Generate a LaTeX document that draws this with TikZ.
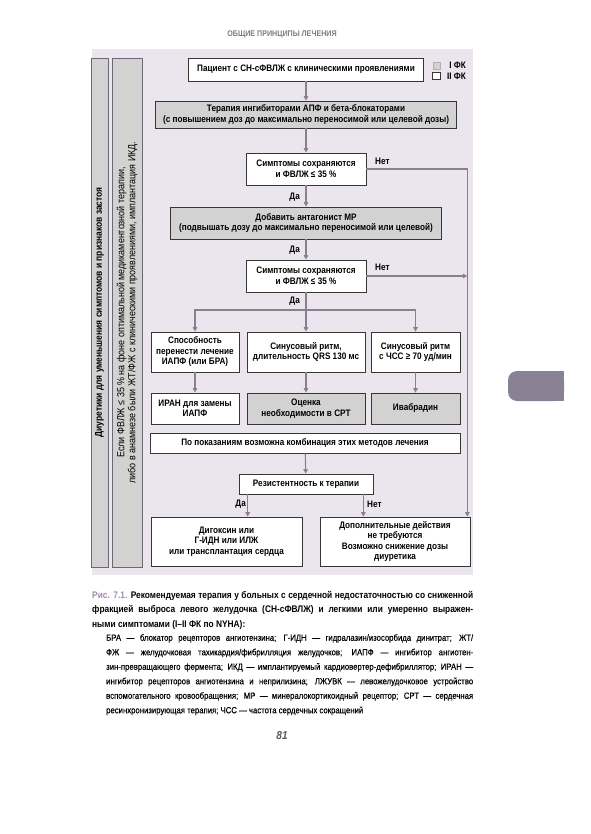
\documentclass[tikz,border=0pt]{standalone}
\usepackage{fontspec}
\setmainfont{Liberation Sans}[FakeStretch=0.87]
\newfontfamily\abbrfont{Liberation Sans}[FakeStretch=0.87, FakeBold=0.35]
\usepackage{xcolor}
\usetikzlibrary{arrows.meta, positioning, calc, shadows}
\definecolor{panelbg}{HTML}{EBE5EE}
\definecolor{flowline}{HTML}{8A7F92}
\definecolor{boxgrey}{HTML}{D2D2D2}
\definecolor{boxedge}{HTML}{363636}
\definecolor{tabgrey}{HTML}{8B8194}
\definecolor{figlabel}{HTML}{9F8AAF}
\definecolor{headgrey}{HTML}{7D7D7D}

\begin{document}
\begin{tikzpicture}[x=1pt, y=-1pt,
    box/.style={draw=boxedge, line width=0.7pt, fill=white, align=center, inner sep=1pt,
      font=\fontsize{9.4}{10.5}\selectfont\bfseries,
      general shadow={fill=black!55, shadow xshift=0.9pt, shadow yshift=-0.9pt}},
    greybox/.style={box, fill=boxgrey},
    bar/.style={draw=flowline!80!black, line width=0.6pt, fill=boxgrey, inner sep=0pt},
    bartext/.style={rotate=90, align=center, inner sep=0pt},
    arrow/.style={-{Triangle[length=4.5pt, width=4.5pt]}, flowline, line width=1.1pt},
    link/.style={flowline, line width=1.1pt},
    lbl/.style={font=\fontsize{9.4}{10}\selectfont\bfseries, inner sep=0pt}
]
\useasboundingbox (0,0) rectangle (590,834);
\fill[white] (0,0) rectangle (590,834);

\node[font=\fontsize{8.2}{9}\selectfont\bfseries, text=headgrey] (head) at (282,34) {ОБЩИЕ ПРИНЦИПЫ ЛЕЧЕНИЯ};
\fill[panelbg] (92,49) rectangle (473,575);

\node[bar, minimum width=17pt, minimum height=509pt] (diurbar) at (99.5,312.5) {};
\node[bar, minimum width=30pt, minimum height=509pt] (icdbar) at (127,312.5) {};
\node[bartext, font=\fontsize{9.7}{10}\selectfont\bfseries] (diurtext) at (diurbar) {Диуретики для уменьшения симптомов и признаков застоя};
\node[bartext, font=\fontsize{10.3}{11}\selectfont] (icdtext) at (icdbar) {Если ФВЛЖ ≤ 35 \% на фоне оптимальной медикаментозной терапии,\\либо в анамнезе были ЖТ/ФЖ с клиническими проявлениями, имплантация ИКД.};

\node[box, minimum width=235pt, minimum height=23pt] (pat) at (306,69.5) {Пациент с СН-сФВЛЖ с клиническими проявлениями};
\node[greybox, minimum width=301pt, minimum height=27pt] (acei) at (306,114.5) {Терапия ингибиторами АПФ и бета-блокаторами\\(с повышением доз до максимально переносимой или целевой дозы)};
\node[box, minimum width=120pt, minimum height=32pt] (sym1) at (306,169) {Симптомы сохраняются\\и ФВЛЖ ≤ 35 \%};
\node[greybox, minimum width=271pt, minimum height=32pt] (mra) at (306,223) {Добавить антагонист МР\\(подвышать дозу до максимально переносимой или целевой)};
\node[box, minimum width=120pt, minimum height=32pt] (sym2) at (306,276) {Симптомы сохраняются\\и ФВЛЖ ≤ 35 \%};

\node[box, minimum width=88pt, minimum height=40pt] (tol) at (195,352) {Способность\\перенести лечение\\ИАПФ (или БРА)};
\node[box, minimum width=118pt, minimum height=40pt] (qrs) at (306,352) {Синусовый ритм,\\длительность QRS 130 мс};
\node[box, minimum width=89pt, minimum height=40pt] (hr) at (415.5,352) {Синусовый ритм\\с ЧСС ≥ 70 уд/мин};
\node[box, minimum width=88pt, minimum height=31pt] (arni) at (195,408.5) {ИРАН для замены\\ИАПФ};
\node[greybox, minimum width=118pt, minimum height=31pt] (crt) at (306,408.5) {Оценка\\необходимости в СРТ};
\node[greybox, minimum width=89pt, minimum height=31pt] (ivab) at (415.5,408.5) {Ивабрадин};

\node[box, minimum width=310pt, minimum height=20pt] (comb) at (305,443) {По показаниям возможна комбинация этих методов лечения};
\node[box, minimum width=134pt, minimum height=20pt] (resist) at (306,484) {Резистентность к терапии};
\node[box, minimum width=151pt, minimum height=49pt] (dig) at (226.5,541.5) {Дигоксин или\\Г-ИДН или ИЛЖ\\или трансплантация сердца};
\node[box, minimum width=150pt, minimum height=49pt] (noact) at (395,541.5) {Дополнительные действия\\не требуются\\Возможно снижение дозы\\диуретика};

\node[fill=boxgrey, draw=boxedge!40, minimum size=7pt, inner sep=0pt] (fk1sq) at (436.5,65.5) {};
\node[fill=white, draw=boxedge, line width=0.8pt, minimum size=7.5pt, inner sep=0pt] (fk2sq) at (436.5,76) {};
\node[lbl, anchor=east] (fk1) at (466,65.5) {I ФК};
\node[lbl, anchor=east] (fk2) at (466,76) {II ФК};

\coordinate (rcol) at ([xshift=-3pt]noact.north east);
\coordinate (br) at (306,310);
\coordinate (yesleft) at ([xshift=9pt]resist.south west);
\coordinate (noright) at ([xshift=-10pt]resist.south east);

\draw[arrow] (pat) -- (acei);
\draw[arrow] (acei) -- (sym1);
\draw[arrow] (sym1) -- (mra);
\draw[arrow] (mra) -- (sym2);
\draw[arrow] (sym1.east) -| (rcol);
\draw[arrow] (sym2.east) -- (sym2.east -| rcol);
\draw[link] (sym2) -- (br);
\draw[arrow] (br) -| (tol.north);
\draw[arrow] (br) -- (qrs.north);
\draw[arrow] (br) -| (hr.north);
\draw[arrow] (tol) -- (arni);
\draw[arrow] (qrs) -- (crt);
\draw[arrow] (hr) -- (ivab);
\draw[arrow] (comb) -- (resist);
\draw[arrow] (yesleft) -- (yesleft |- dig.north);
\draw[arrow] (noright) -- (noright |- noact.north);

\node[lbl, anchor=east] (yes1) at (300,197) {Да};
\node[lbl, anchor=east] (yes2) at (300,250) {Да};
\node[lbl, anchor=east] (yes3) at (300,301) {Да};
\node[lbl, anchor=west] (no1) at (375,161) {Нет};
\node[lbl, anchor=west] (no2) at (375,267) {Нет};
\node[lbl, anchor=east] (yes4) at (246,504) {Да};
\node[lbl, anchor=west] (no3) at (367,504) {Нет};

\fill[tabgrey, rounded corners=9pt] (508,371) rectangle (564,401);
\fill[tabgrey] (535,371) rectangle (564,401);

\node[anchor=north west, inner sep=0pt, text width=381pt, align=justify, font=\fontsize{9.6}{14.5}\selectfont\bfseries] (cap) at (92,591) {\hangindent=14pt\hangafter=1 \textcolor{figlabel}{Рис. 7.1.} Рекомендуемая терапия у больных с сердечной недостаточностью со сниженной\linebreak фракцией выброса левого желудочка (СН-сФВЛЖ) и легкими или умеренно выражен-\linebreak ными симптомами (I–II ФК по NYHA):};
\node[anchor=north west, inner sep=0pt, text width=367pt, align=justify, font=\fontsize{8.9}{14.5}\abbrfont\selectfont] (abbr) at (106,634) {БРА — блокатор рецепторов ангиотензина; Г-ИДН — гидралазин/изосорбида динитрат; ЖТ/\linebreak ФЖ — желудочковая тахикардия/фибрилляция желудочков; ИАПФ — ингибитор ангиотен-\linebreak зин-превращающего фермента; ИКД — имплантируемый кардиовертер-дефибриллятор; ИРАН —\linebreak ингибитор рецепторов ангиотензина и неприлизина; ЛЖУВК — левожелудочковое устройство\linebreak вспомогательного кровообращения; МР — минералокортикоидный рецептор; СРТ — сердечная\linebreak ресинхронизирующая терапия; ЧСС — частота сердечных сокращений};
\node[font=\fontsize{11.5}{12}\selectfont\bfseries\itshape, text=black!65] (pageno) at (282,736) {81};
\end{tikzpicture}
\end{document}
